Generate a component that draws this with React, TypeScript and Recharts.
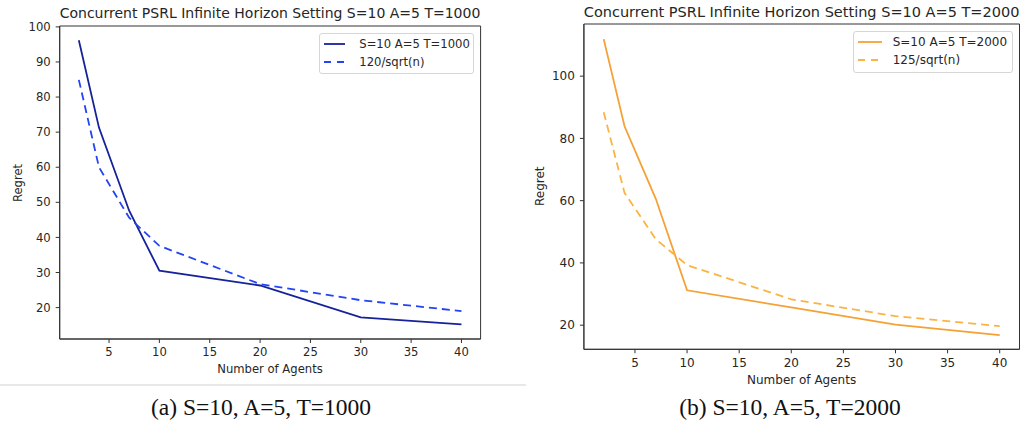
import React from "react";
import { LineChart, Line, XAxis, YAxis, ReferenceArea } from "recharts";

const agents = [2, 4, 7, 10, 20, 30, 40];
const regretT1000 = [96.2, 71.3, 47.6, 30.5, 26.3, 17.2, 15.2];
const boundT1000 = [84.9, 60.0, 45.6, 37.6, 26.7, 22.1, 19.0];
const regretT2000 = [111.9, 83.9, 60.6, 31.2, 25.7, 20.2, 16.8];
const boundT2000 = [88.4, 62.5, 47.6, 39.3, 28.3, 22.9, 19.7];

const xTicks = [5, 10, 15, 20, 25, 30, 35, 40];
const yTicksA = [20, 30, 40, 50, 60, 70, 80, 90, 100];
const yTicksB = [20, 40, 60, 80, 100];

const FONT = "'DejaVu Sans', sans-serif";
const TEXT = "#262626";

interface PanelProps {
  left: number;
  width: number;
  height: number;
  margin: { top: number; right: number; bottom: number; left: number };
  yWidth: number;
  xHeight: number;
  yDomain: [number, number];
  yTicks: number[];
  regret: number[];
  bound: number[];
  solidColor: string;
  dashColor: string;
  regretName: string;
  boundName: string;
  fontSize: number;
  legendTop: number;
  legendRight: number;
  legendWidth: number;
  handle: number;
}

function LegendBox({
  items,
  fontSize,
  width,
  handle,
}: {
  items: { name: string; color: string; dashed: boolean }[];
  fontSize: number;
  width: number;
  handle: number;
}) {
  return (
    <div
      style={{
        width,
        boxSizing: "border-box",
        border: "1px solid #d6d6d6",
        borderRadius: 3,
        background: "rgba(255,255,255,0.8)",
        padding: "1px 0 2px 0",
        fontFamily: FONT,
        fontSize,
        color: TEXT,
      }}
    >
      {items.map((it) => (
        <div
          key={it.name}
          style={{ display: "flex", alignItems: "center", height: 18.3 }}
        >
          <svg width={handle + 8} height={10} style={{ marginLeft: 4 }}>
            <line
              x1={0}
              x2={handle}
              y1={5}
              y2={5}
              stroke={it.color}
              strokeWidth={1.8}
              strokeDasharray={it.dashed ? "7 6" : undefined}
            />
          </svg>
          <span style={{ marginLeft: 39 - handle - 12, whiteSpace: "nowrap" }}>
            {it.name}
          </span>
        </div>
      ))}
    </div>
  );
}

function Panel(p: PanelProps) {
  const data = agents.map((n, i) => ({
    n,
    regret: p.regret[i],
    bound: p.bound[i],
  }));
  const tickStyle = { fontSize: p.fontSize, fill: TEXT, fontFamily: FONT };
  return (
    <div style={{ position: "absolute", left: p.left, top: 0 }}>
      <LineChart width={p.width} height={p.height} data={data} margin={p.margin}>
        <XAxis
          dataKey="n"
          type="number"
          domain={[0.1, 41.9]}
          ticks={xTicks}
          allowDataOverflow
          height={p.xHeight}
          tickSize={4}
          tickMargin={5}
          tick={tickStyle}
          stroke="#333"
          tickLine={{ stroke: "#333" }}
        />
        <YAxis
          type="number"
          domain={p.yDomain}
          ticks={p.yTicks}
          allowDataOverflow
          width={p.yWidth}
          tickSize={4}
          tickMargin={5}
          tick={tickStyle}
          stroke="#333"
          tickLine={{ stroke: "#333" }}
        />
        <ReferenceArea
          x1={0.1}
          x2={41.9}
          y1={p.yDomain[0]}
          y2={p.yDomain[1]}
          fill="none"
          stroke="#333"
          strokeWidth={1}
          ifOverflow="visible"
        />
        <Line
          dataKey="regret"
          name={p.regretName}
          stroke={p.solidColor}
          strokeWidth={1.8}
          dot={false}
          isAnimationActive={false}
        />
        <Line
          dataKey="bound"
          name={p.boundName}
          stroke={p.dashColor}
          strokeWidth={1.8}
          strokeDasharray="8 5"
          dot={false}
          isAnimationActive={false}
        />
      </LineChart>
      <div
        style={{
          position: "absolute",
          top: p.legendTop,
          left: p.width - p.legendRight - p.legendWidth,
        }}
      >
        <LegendBox
          fontSize={p.fontSize}
          width={p.legendWidth}
          handle={p.handle}
          items={[
            { name: p.regretName, color: p.solidColor, dashed: false },
            { name: p.boundName, color: p.dashColor, dashed: true },
          ]}
        />
      </div>
    </div>
  );
}

function Text({
  x,
  y,
  size,
  children,
  family = FONT,
  rotate = false,
  color = TEXT,
}: {
  x: number;
  y: number;
  size: number;
  children: React.ReactNode;
  family?: string;
  rotate?: boolean;
  color?: string;
}) {
  const lh = size * 1.2;
  return (
    <div
      style={{
        position: "absolute",
        left: x - 300,
        top: y - lh / 2,
        width: 600,
        height: lh,
        lineHeight: `${lh}px`,
        textAlign: "center",
        fontFamily: family,
        fontSize: size,
        color,
        whiteSpace: "nowrap",
        transform: rotate ? "rotate(-90deg)" : undefined,
      }}
    >
      {children}
    </div>
  );
}

export default function App() {
  return (
    <div
      style={{
        position: "absolute",
        left: 0,
        top: 0,
        width: 1022,
        height: 424,
        background: "#fff",
        overflow: "hidden",
      }}
    >
      <Panel
        left={0}
        width={490}
        height={380}
        margin={{ top: 26, right: 9.4, bottom: 0, left: 0 }}
        yWidth={59.7}
        xHeight={41}
        yDomain={[11.05, 100.25]}
        yTicks={yTicksA}
        regret={regretT1000}
        bound={boundT1000}
        solidColor="#16229a"
        dashColor="#2244f5"
        regretName="S=10 A=5 T=1000"
        boundName="120/sqrt(n)"
        fontSize={11.6}
        legendTop={32.7}
        legendRight={15.7}
        legendWidth={155}
        handle={21}
      />
      <Panel
        left={511}
        width={511}
        height={390}
        margin={{ top: 24, right: 2.5, bottom: 0, left: 0 }}
        yWidth={72.9}
        xHeight={40.7}
        yDomain={[12.25, 116.75]}
        yTicks={yTicksB}
        regret={regretT2000}
        bound={boundT2000}
        solidColor="#f5a136"
        dashColor="#fbb444"
        regretName="S=10 A=5 T=2000"
        boundName="125/sqrt(n)"
        fontSize={12}
        legendTop={31}
        legendRight={9.3}
        legendWidth={160}
        handle={24}
      />

      <Text x={270} y={13.5} size={14}>
        Concurrent PSRL Infinite Horizon Setting S=10 A=5 T=1000
      </Text>
      <Text x={801.6} y={12.5} size={14.5}>
        Concurrent PSRL Infinite Horizon Setting S=10 A=5 T=2000
      </Text>
      <Text x={270} y={370} size={11.6}>
        Number of Agents
      </Text>
      <Text x={801.6} y={380} size={12}>
        Number of Agents
      </Text>
      <Text x={19} y={182.5} size={11.6} rotate>
        Regret
      </Text>
      <Text x={540} y={186.5} size={12} rotate>
        Regret
      </Text>

      <div
        style={{
          position: "absolute",
          left: 0,
          top: 384,
          width: 526,
          height: 2,
          background: "#e8e8e8",
        }}
      />
      <Text
        x={261}
        y={407}
        size={23.5}
        family="'Liberation Serif', 'Times New Roman', serif"
        color="#111"
      >
        (a) S=10, A=5, T=1000
      </Text>
      <Text
        x={790}
        y={407}
        size={23.5}
        family="'Liberation Serif', 'Times New Roman', serif"
        color="#111"
      >
        (b) S=10, A=5, T=2000
      </Text>
    </div>
  );
}
